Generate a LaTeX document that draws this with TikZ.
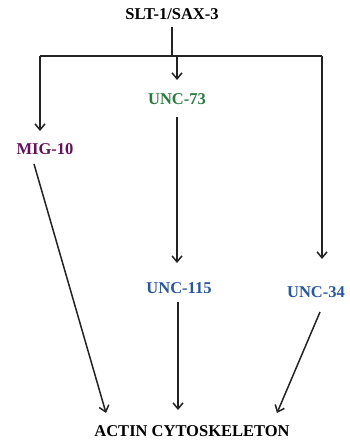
\documentclass[tikz,border=0pt]{standalone}
\usepackage{fontspec}
\setmainfont{Liberation Serif}
\usetikzlibrary{arrows.meta}
\definecolor{migc}{RGB}{100,16,90}
\definecolor{uncg}{RGB}{40,125,60}
\definecolor{uncb}{RGB}{40,85,165}
\definecolor{linec}{RGB}{35,35,35}
\begin{document}
\begin{tikzpicture}[x=1pt,y=-1pt,
  lbl/.style={font=\fontsize{16.5}{18}\selectfont\bfseries, inner sep=0pt},
  conn/.style={draw=linec, line width=1.5pt},
  arr/.style={conn, -{Straight Barb[length=6pt,width=10pt,line width=1.5pt]}}]
\useasboundingbox (0,0) rectangle (349,442);
\node[lbl] (slt) at (172,14) {SLT-1/SAX-3};
\node[lbl,text=uncg] (u73) at (177,99) {UNC-73};
\node[lbl,text=migc] (mig) at (45,149) {MIG-10};
\node[lbl,text=uncb] (u115) at (179,288) {UNC-115};
\node[lbl,text=uncb] (u34) at (316,292) {UNC-34};
\node[lbl] (actin) at (192,431) {ACTIN CYTOSKELETON};
\coordinate (hl) at (40,56);
\coordinate (hr) at (322,56);
\coordinate (hm) at (172,56);
\coordinate (hm2) at (177,56);
\draw[conn] (172,27) -- (hm);
\draw[conn] (hl) -- (hr);
\draw[arr] (hl) -- (40,131);
\draw[arr] (hm2) -- (177,80);
\draw[arr] (hr) -- (322,259);
\draw[arr] (177,117) -- (177,263);
\draw[arr] (34,164) -- (106,413);
\draw[arr] (178,302) -- (178,410);
\draw[arr] (320,312) -- (277,413);
\end{tikzpicture}
\end{document}
